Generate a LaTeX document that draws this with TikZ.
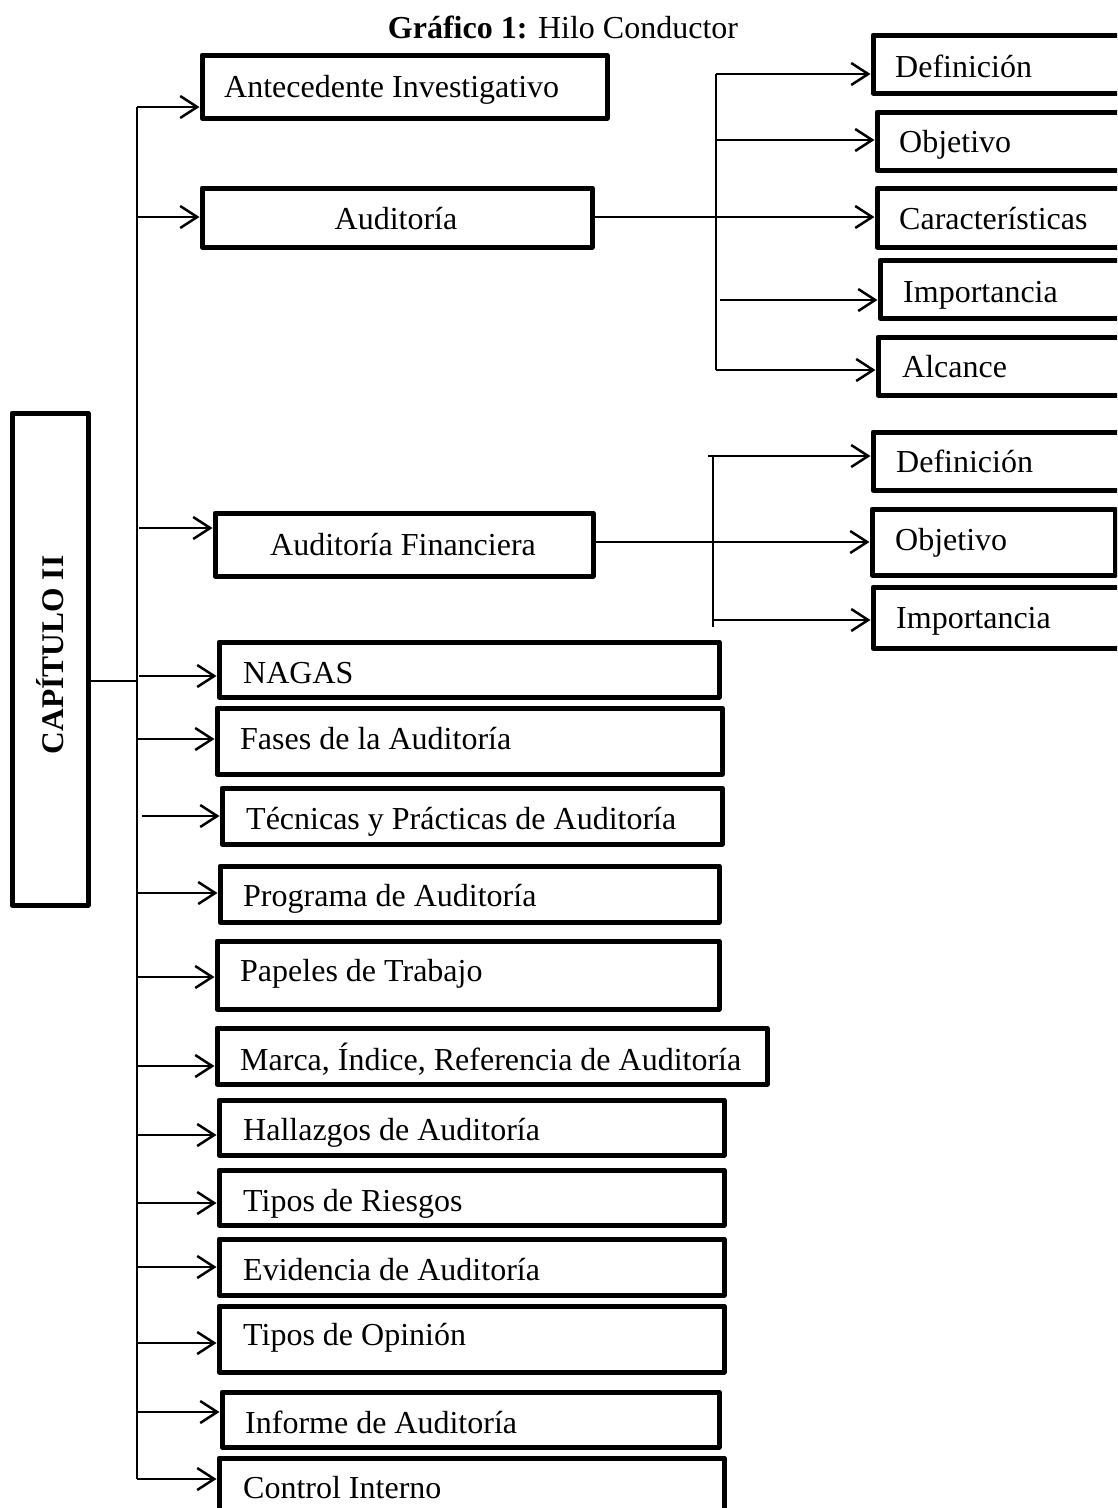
\documentclass[tikz,border=0pt]{standalone}
\usepackage{fontspec}
\setmainfont{Liberation Serif}
\usetikzlibrary{fit,arrows.meta}
\tikzset{
 boxst/.style={draw, line width=5pt, line join=round, inner sep=0pt},
 conn/.style={line width=2.5pt},
 arr/.style={conn, -{Straight Barb[length=17pt,width=22pt]}},
 txt/.style={anchor=base west, inner sep=0pt, font=\fontsize{32}{36}\selectfont},
 ctxt/.style={txt, anchor=base},
}
\newcommand\mkbox[5]{\node[boxst, fit={(#2,#3) (#4,#5)}] (#1) {};}
\begin{document}
\begin{tikzpicture}[x=1pt,y=-1pt]
\useasboundingbox (0,0) rectangle (1117,1508);
\clip (0,0) rectangle (1117,1508);

% title
\node[ctxt] (title) at (563,38) {\textbf{Gráfico 1:} Hilo Conductor};

% chapter box
\mkbox{cap}{12}{413}{88}{905}
\node[inner sep=0pt, rotate=90, font=\fontsize{31.5}{36}\selectfont\bfseries] (captxt) at (50,655) {CAPÍTULO II};

% trunk
\coordinate (tt) at (137,107);
\coordinate (tb) at (137,1479);
\coordinate (tj) at (137,681);
\draw[conn] (tt) -- (tb);
\draw[conn] (tj -| cap.east) -- (tj);

% first-level boxes
\mkbox{ante}{202}{55}{607}{118}
\node[txt] (tante) at (224,97) {Antecedente Investigativo};
\mkbox{aud}{202}{188}{592}{247}
\node[ctxt] (taud) at (396,229) {Auditoría};
\mkbox{af}{215}{513}{593}{576}
\node[ctxt] (taf) at (403,555) {Auditoría Financiera};
\mkbox{nagas}{219}{642}{719}{697}
\node[txt] (tnagas) at (243,683) {NAGAS};
\mkbox{fases}{217}{708}{722}{774}
\node[txt] (tfases) at (240,749) {Fases de la Auditoría};
\mkbox{tec}{222}{788}{722}{844}
\node[txt] (ttec) at (246,829) {Técnicas y Prácticas de Auditoría};
\mkbox{prog}{220}{866}{719}{922}
\node[txt] (tprog) at (243,906) {Programa de Auditoría};
\mkbox{pap}{217}{941}{719}{1009}
\node[txt] (tpap) at (240,981) {Papeles de Trabajo};
\mkbox{marca}{217}{1028}{767}{1084}
\node[txt] (tmarca) at (240,1070) {Marca, Índice, Referencia de Auditoría};
\mkbox{hall}{219}{1100}{724}{1155}
\node[txt] (thall) at (243,1140) {Hallazgos de Auditoría};
\mkbox{ries}{219}{1170}{724}{1225}
\node[txt] (tries) at (243,1211) {Tipos de Riesgos};
\mkbox{evid}{219}{1239}{724}{1295}
\node[txt] (tevid) at (243,1280) {Evidencia de Auditoría};
\mkbox{opin}{219}{1306}{724}{1372}
\node[txt] (topin) at (243,1345) {Tipos de Opinión};
\mkbox{inf}{222}{1392}{719}{1447}
\node[txt] (tinf) at (245,1433) {Informe de Auditoría};
\mkbox{ctrl}{219}{1458}{724}{1530}
\node[txt] (tctrl) at (243,1498) {Control Interno};

% first-level arrows
\coordinate (sante) at (137,107);
\coordinate (saud) at (137,217);
\coordinate (saf) at (139,528);
\coordinate (snagas) at (139,676);
\coordinate (sfases) at (137,739);
\coordinate (stec) at (142,816);
\coordinate (sprog) at (137,893);
\coordinate (spap) at (137,977);
\coordinate (smarca) at (137,1066);
\coordinate (shall) at (137,1135);
\coordinate (sries) at (137,1203);
\coordinate (sevid) at (137,1267);
\coordinate (sopin) at (137,1343);
\coordinate (sinf) at (137,1412);
\coordinate (sctrl) at (137,1479);
\foreach \n in {ante,aud,af,nagas,fases,tec,prog,pap,marca,hall,ries,evid,opin,inf,ctrl}
  \draw[arr] (s\n) -- (s\n -| \n.west);

% Auditoria sub-boxes
\mkbox{defa}{873}{35}{1122}{93}
\node[txt] (tdefa) at (895,77) {Definición};
\mkbox{obja}{877}{112}{1122}{170}
\node[txt] (tobja) at (899,152) {Objetivo};
\mkbox{cara}{877}{188}{1122}{247}
\node[txt] (tcara) at (899,229) {Características};
\mkbox{impa}{880}{260}{1122}{318}
\node[txt] (timpa) at (903,302) {Importancia};
\mkbox{alca}{878}{337}{1122}{395}
\node[txt] (talca) at (902,377) {Alcance};

\coordinate (va) at (716,74);
\coordinate (vb) at (716,370);
\coordinate (vo) at (716,140);
\coordinate (vi) at (720,300);
\coordinate (vc) at (592,217);
\draw[conn] (va) -- (vb);
\draw[arr] (va) -- (va -| defa.west);
\draw[arr] (vo) -- (vo -| obja.west);
\draw[arr] (vc) -- (cara.west |- vc);
\draw[arr] (vi) -- (vi -| impa.west);
\draw[arr] (vb) -- (vb -| alca.west);

% Auditoria Financiera sub-boxes
\mkbox{deff}{873}{432}{1122}{490}
\node[txt] (tdeff) at (896,472) {Definición};
\mkbox{objf}{872}{509}{1115}{575}
\node[txt] (tobjf) at (895,550) {Objetivo};
\mkbox{impf}{873}{587}{1122}{648}
\node[txt] (timpf) at (896,628) {Importancia};

\coordinate (fa) at (708,456);
\coordinate (fv) at (713,456);
\coordinate (fb) at (713,627);
\coordinate (fi) at (713,620);
\coordinate (fo) at (593,542);
\draw[conn] (fv) -- (fb);
\draw[arr] (fa) -- (fa -| deff.west);
\draw[arr] (fo) -- (objf.west |- fo);
\draw[arr] (fi) -- (fi -| impf.west);
\end{tikzpicture}
\end{document}
